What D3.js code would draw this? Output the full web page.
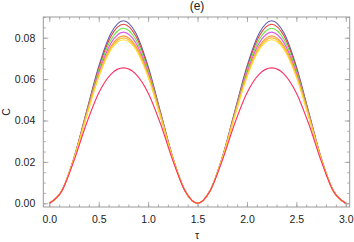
<!DOCTYPE html>
<html>
<head>
<meta charset="utf-8">
<script src="https://cdn.jsdelivr.net/npm/d3@7"></script>
<style>
  body { margin: 0; background: #fff; }
  text { font-family: "Liberation Sans", Arial, sans-serif; }
</style>
</head>
<body>
<div id="chart"></div>
<script>
// tau sample points (step 0.125)
var tau = [0, 0.125, 0.25, 0.375, 0.5, 0.625, 0.75, 0.875, 1.0, 1.125, 1.25, 1.375, 1.5,
	1.625, 1.75, 1.875, 2.0, 2.125, 2.25, 2.375, 2.5, 2.625, 2.75, 2.875, 3.0];

// curves, top peak to bottom peak
var cBlue = [0, 0.00591, 0.02205, 0.0441, 0.06615, 0.08229, 0.0882, 0.08229, 0.06615, 0.0441, 0.02205, 0.00591, 0,
	0.00591, 0.02205, 0.0441, 0.06615, 0.08229, 0.0882, 0.08229, 0.06615, 0.0441, 0.02205, 0.00591, 0];
var cRed = [0, 0.0059, 0.02194, 0.04368, 0.06519, 0.08081, 0.0865, 0.08081, 0.06519, 0.04368, 0.02194, 0.0059, 0,
	0.0059, 0.02194, 0.04368, 0.06519, 0.08081, 0.0865, 0.08081, 0.06519, 0.04368, 0.02194, 0.0059, 0];
var cGreen = [0, 0.00589, 0.02183, 0.0432, 0.06413, 0.07916, 0.0846, 0.07916, 0.06413, 0.0432, 0.02183, 0.00589, 0,
	0.00589, 0.02183, 0.0432, 0.06413, 0.07916, 0.0846, 0.07916, 0.06413, 0.0432, 0.02183, 0.00589, 0];
var cMagenta = [0, 0.00589, 0.02171, 0.04273, 0.06306, 0.0775, 0.0827, 0.0775, 0.06306, 0.04273, 0.02171, 0.00589, 0,
	0.00589, 0.02171, 0.04273, 0.06306, 0.0775, 0.0827, 0.0775, 0.06306, 0.04273, 0.02171, 0.00589, 0];
var cOrange = [0, 0.00588, 0.02159, 0.04228, 0.06204, 0.07594, 0.0809, 0.07594, 0.06204, 0.04228, 0.02159, 0.00588, 0,
	0.00588, 0.02159, 0.04228, 0.06204, 0.07594, 0.0809, 0.07594, 0.06204, 0.04228, 0.02159, 0.00588, 0];
var cLightOrange = [0, 0.00587, 0.02153, 0.04203, 0.06148, 0.07507, 0.0799, 0.07507, 0.06148, 0.04203, 0.02153, 0.00587, 0,
	0.00587, 0.02153, 0.04203, 0.06148, 0.07507, 0.0799, 0.07507, 0.06148, 0.04203, 0.02153, 0.00587, 0];
var cYellow = [0, 0.00587, 0.02148, 0.0418, 0.06098, 0.07428, 0.079, 0.07428, 0.06098, 0.0418, 0.02148, 0.00587, 0,
	0.00587, 0.02148, 0.0418, 0.06098, 0.07428, 0.079, 0.07428, 0.06098, 0.0418, 0.02148, 0.00587, 0];
var cPink = [0, 0.00581, 0.02063, 0.0384, 0.05333, 0.06244, 0.0654, 0.06244, 0.05333, 0.0384, 0.02063, 0.00581, 0,
	0.00581, 0.02063, 0.0384, 0.05333, 0.06244, 0.0654, 0.06244, 0.05333, 0.0384, 0.02063, 0.00581, 0];

var series = [cBlue, cRed, cGreen, cMagenta, cOrange, cLightOrange, cYellow, cPink];
var colors = ["#5c5cb8", "#e8403c", "#66e83c", "#d95ce8", "#ff9a3c", "#ffb830", "#ffdc30", "#ff2e62"];

var xTicks = [0, 0.5, 1.0, 1.5, 2.0, 2.5, 3.0];
var yTicks = [0, 0.02, 0.04, 0.06, 0.08];

var svgWidth = 354, svgHeight = 242;
var plotL = 43.3, plotR = 349.7, plotT = 17, plotB = 207;

var svg = d3.select("#chart").append("svg")
	.attr("width", svgWidth)
	.attr("height", svgHeight);

var x = d3.scaleLinear().domain([-0.061, 3.04]).range([plotL, plotR]);
var y = d3.scaleLinear().domain([-0.0018, 0.090]).range([plotB, plotT]);

var xMinor = d3.range(0, 3.0001, 0.1);
var yMinor = d3.range(0, 0.0901, 0.005);

function styleAxis(g){
	g.select(".domain").remove();
	g.selectAll("line").attr("stroke", "#999").attr("stroke-width", 0.8);
	g.selectAll("text").attr("fill", "#222").style("font-size", "10.5px");
}

// bottom
svg.append("g").attr("transform", "translate(0," + plotB + ")")
	.call(d3.axisBottom(x).tickValues(xMinor).tickSize(-2.5).tickFormat(""))
	.call(styleAxis);
svg.append("g").attr("transform", "translate(0," + plotB + ")")
	.call(d3.axisBottom(x).tickValues(xTicks).tickSize(-5).tickPadding(9).tickFormat(d3.format(".1f")))
	.call(styleAxis);
// top
svg.append("g").attr("transform", "translate(0," + plotT + ")")
	.call(d3.axisTop(x).tickValues(xMinor).tickSize(-2.5).tickFormat(""))
	.call(styleAxis);
svg.append("g").attr("transform", "translate(0," + plotT + ")")
	.call(d3.axisTop(x).tickValues(xTicks).tickSize(-5).tickFormat(""))
	.call(styleAxis);
// left
svg.append("g").attr("transform", "translate(" + plotL + ",0)")
	.call(d3.axisLeft(y).tickValues(yMinor).tickSize(-2.5).tickFormat(""))
	.call(styleAxis);
svg.append("g").attr("transform", "translate(" + plotL + ",0)")
	.call(d3.axisLeft(y).tickValues(yTicks).tickSize(-5).tickPadding(8).tickFormat(d3.format(".2f")))
	.call(styleAxis);
// right
svg.append("g").attr("transform", "translate(" + plotR + ",0)")
	.call(d3.axisRight(y).tickValues(yMinor).tickSize(-2.5).tickFormat(""))
	.call(styleAxis);
svg.append("g").attr("transform", "translate(" + plotR + ",0)")
	.call(d3.axisRight(y).tickValues(yTicks).tickSize(-5).tickFormat(""))
	.call(styleAxis);

// frame
svg.append("rect")
	.attr("x", plotL).attr("y", plotT)
	.attr("width", plotR - plotL).attr("height", plotB - plotT)
	.attr("fill", "none").attr("stroke", "#999").attr("stroke-width", 1);

// curves
var line = d3.line()
	.x(function(d, i){ return x(tau[i]); })
	.y(function(d){ return y(d); })
	.curve(d3.curveMonotoneX);

svg.append("g").selectAll("path")
	.data(series)
	.enter()
	.append("path")
	.attr("d", line)
	.attr("fill", "none")
	.attr("stroke", function(d, i){ return colors[i]; })
	.attr("stroke-width", 1.1);

// labels
svg.append("text").attr("x", 197).attr("y", 10).attr("text-anchor", "middle")
	.style("font-size", "12px").attr("fill", "#222").text("(e)");
svg.append("text").attr("x", 197).attr("y", 239).attr("text-anchor", "middle")
	.style("font-size", "10.5px").attr("fill", "#222").text("τ");
svg.append("text").attr("transform", "translate(10,112) rotate(-90)").attr("text-anchor", "middle")
	.style("font-size", "10.5px").attr("fill", "#222").text("C");
</script>
</body>
</html>
